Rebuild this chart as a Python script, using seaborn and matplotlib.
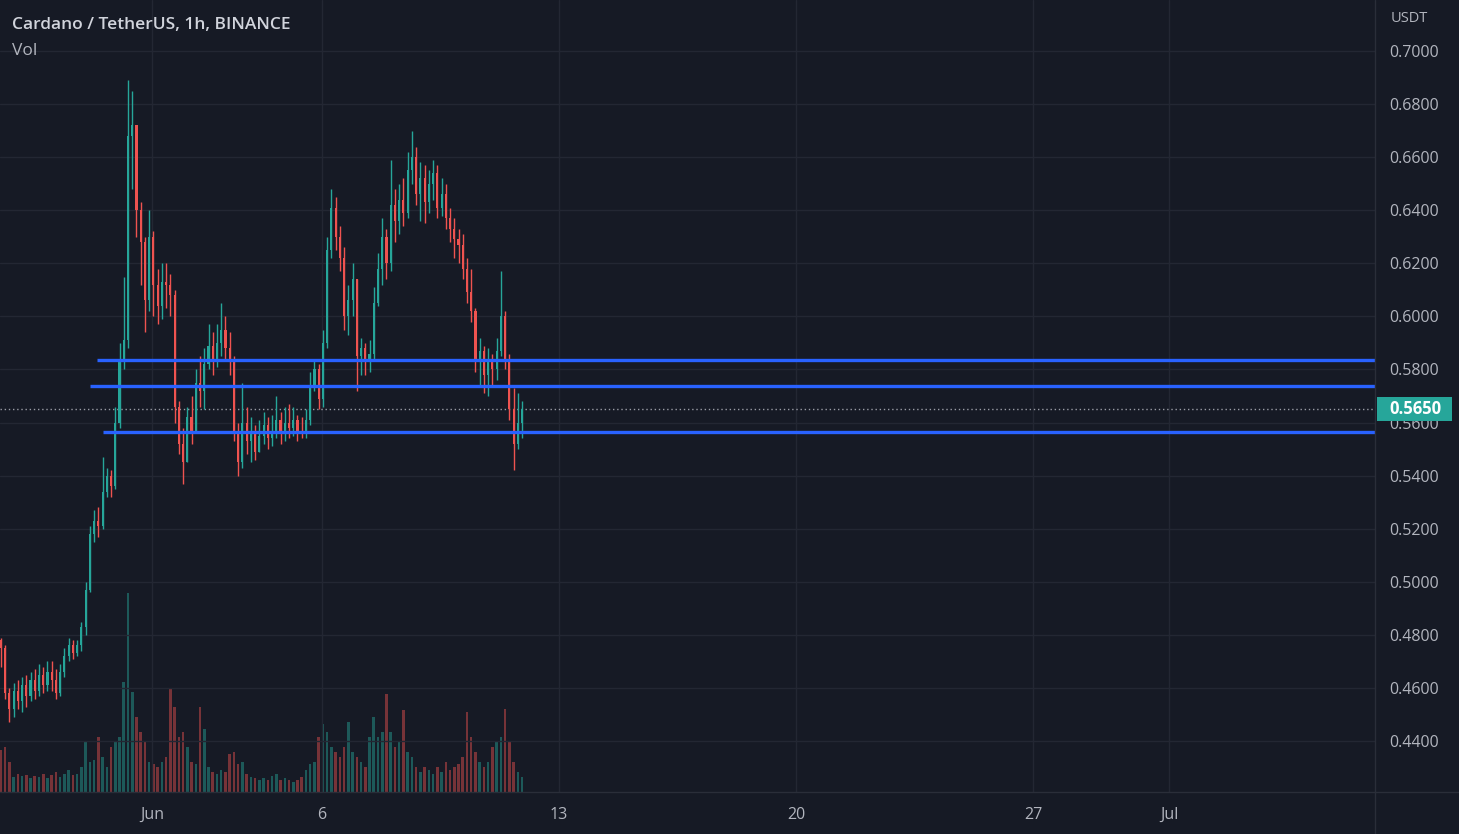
import numpy as np
import pandas as pd
import matplotlib
matplotlib.use("Agg")
import matplotlib.pyplot as plt
import matplotlib.dates as mdates
from matplotlib.patches import Rectangle
from matplotlib.lines import Line2D
import seaborn as sns

first_open = 0.478
close = [0.475, 0.458, 0.452, 0.459, 0.455, 0.461, 0.457, 0.463, 0.459, 0.465,
         0.461, 0.466, 0.463, 0.458, 0.466, 0.472, 0.476, 0.473, 0.476, 0.483,
         0.497, 0.518, 0.523, 0.521, 0.534, 0.540, 0.536, 0.560, 0.584, 0.591,
         0.668, 0.672, 0.640, 0.628, 0.606, 0.630, 0.612, 0.604, 0.613, 0.612,
         0.608, 0.566, 0.552, 0.545, 0.562, 0.557, 0.575, 0.572, 0.582, 0.589,
         0.584, 0.590, 0.595, 0.588, 0.583, 0.556, 0.545, 0.560, 0.553, 0.556,
         0.549, 0.555, 0.559, 0.554, 0.557, 0.561, 0.556, 0.560, 0.558, 0.561,
         0.557, 0.556, 0.561, 0.574, 0.580, 0.569, 0.590, 0.625, 0.641, 0.630,
         0.622, 0.600, 0.606, 0.614, 0.585, 0.588, 0.583, 0.586, 0.605, 0.618,
         0.630, 0.620, 0.642, 0.636, 0.644, 0.639, 0.655, 0.660, 0.646, 0.652,
         0.643, 0.650, 0.654, 0.641, 0.646, 0.637, 0.633, 0.629, 0.627, 0.618,
         0.609, 0.602, 0.583, 0.587, 0.578, 0.583, 0.580, 0.587, 0.600, 0.584,
         0.565, 0.552, 0.560, 0.565]
high = [0.479, 0.476, 0.460, 0.462, 0.463, 0.464, 0.465, 0.466, 0.467, 0.469,
        0.468, 0.470, 0.470, 0.467, 0.469, 0.475, 0.479, 0.478, 0.478, 0.485,
        0.500, 0.521, 0.527, 0.528, 0.547, 0.543, 0.542, 0.566, 0.590, 0.615,
        0.689, 0.685, 0.672, 0.643, 0.630, 0.640, 0.632, 0.618, 0.620, 0.620,
        0.616, 0.610, 0.568, 0.558, 0.566, 0.570, 0.580, 0.585, 0.588, 0.597,
        0.594, 0.597, 0.605, 0.600, 0.594, 0.585, 0.560, 0.575, 0.566, 0.562,
        0.559, 0.561, 0.564, 0.562, 0.563, 0.570, 0.564, 0.566, 0.567, 0.566,
        0.563, 0.562, 0.565, 0.579, 0.584, 0.582, 0.595, 0.630, 0.648, 0.645,
        0.634, 0.626, 0.612, 0.620, 0.614, 0.592, 0.590, 0.591, 0.611, 0.624,
        0.637, 0.633, 0.659, 0.648, 0.650, 0.652, 0.662, 0.670, 0.664, 0.658,
        0.657, 0.655, 0.659, 0.657, 0.652, 0.650, 0.641, 0.637, 0.633, 0.631,
        0.622, 0.618, 0.603, 0.592, 0.589, 0.588, 0.586, 0.592, 0.617, 0.602,
        0.586, 0.573, 0.571, 0.568]
low = [0.468, 0.456, 0.447, 0.449, 0.452, 0.451, 0.453, 0.455, 0.456, 0.457,
       0.458, 0.459, 0.459, 0.456, 0.457, 0.464, 0.470, 0.471, 0.472, 0.474,
       0.480, 0.496, 0.515, 0.517, 0.520, 0.532, 0.532, 0.535, 0.558, 0.580,
       0.588, 0.648, 0.630, 0.612, 0.594, 0.602, 0.600, 0.597, 0.599, 0.603,
       0.600, 0.560, 0.548, 0.537, 0.545, 0.552, 0.556, 0.566, 0.565, 0.580,
       0.578, 0.581, 0.585, 0.583, 0.578, 0.553, 0.540, 0.543, 0.548, 0.545,
       0.546, 0.549, 0.552, 0.550, 0.551, 0.554, 0.552, 0.553, 0.554, 0.555,
       0.553, 0.554, 0.554, 0.559, 0.572, 0.565, 0.566, 0.588, 0.622, 0.625,
       0.617, 0.595, 0.593, 0.600, 0.572, 0.578, 0.578, 0.579, 0.584, 0.604,
       0.612, 0.614, 0.617, 0.628, 0.631, 0.634, 0.637, 0.650, 0.642, 0.636,
       0.635, 0.639, 0.644, 0.637, 0.638, 0.633, 0.628, 0.622, 0.620, 0.614,
       0.605, 0.598, 0.579, 0.574, 0.571, 0.570, 0.574, 0.576, 0.585, 0.580,
       0.561, 0.542, 0.550, 0.554]
# volume, relative units
volume = [42, 45, 30, 15, 18, 16, 17, 14, 16, 15,
          18, 14, 17, 20, 15, 18, 22, 17, 18, 25,
          50, 30, 32, 55, 35, 25, 45, 50, 55, 110,
          199, 100, 75, 60, 50, 30, 28, 25, 30, 35,
          104, 85, 55, 60, 45, 30, 28, 85, 63, 25,
          20, 18, 22, 20, 38, 40, 28, 30, 18, 15,
          14, 12, 14, 12, 16, 18, 12, 14, 12, 10,
          12, 15, 22, 28, 30, 55, 68, 60, 45, 40,
          35, 45, 70, 40, 35, 30, 25, 55, 75, 55,
          60, 98, 60, 45, 50, 82, 40, 35, 25, 20,
          25, 22, 18, 25, 20, 30, 22, 25, 28, 35,
          80, 55, 40, 30, 25, 30, 45, 50, 55, 83,
          50, 30, 20, 15]

support_levels = [0.5836, 0.5738, 0.5564]
support_starts = ["2021-05-30 09:00", "2021-05-30 04:00", "2021-05-30 13:20"]
last_price = 0.5650

price_ticks = [0.44, 0.46, 0.48, 0.50, 0.52, 0.54, 0.56, 0.58, 0.60,
               0.62, 0.64, 0.66, 0.68, 0.70]
date_ticks = ["2021-06-01", "2021-06-06", "2021-06-13", "2021-06-20",
              "2021-06-27", "2021-07-01"]
date_labels = ["Jun", "6", "13", "20", "27", "Jul"]

BG = "#161a25"
GRID = "#232733"
SEP = "#2a2e39"
TXT = "#b2b5be"
UP = "#26a69a"
DOWN = "#ef5350"
BLUE = "#2962ff"

times = pd.date_range("2021-05-27 13:00", periods=len(close), freq="3h")
df = pd.DataFrame({
    "x": mdates.date2num(times.to_pydatetime()),
    "open": [first_open] + close[:-1],
    "high": high,
    "low": low,
    "close": close,
    "volume": volume,
})
df["dir"] = np.where(df["close"] >= df["open"], "up", "down")

sns.set_theme(style="dark", rc={"axes.facecolor": BG, "figure.facecolor": BG})
plt.rcParams["font.family"] = ["Open Sans", "DejaVu Sans"]

fig = plt.figure(figsize=(14.59, 8.34), dpi=100)
rect = [0, 42 / 834, 1375 / 1459, 792 / 834]
vax = fig.add_axes(rect)
ax = fig.add_axes(rect)
ax.patch.set_visible(False)

jun1 = mdates.date2num(pd.Timestamp("2021-06-01"))
xmin, xmax = jun1 - 4.484, jun1 + 36.077

# volume pane
sns.barplot(data=df, x="x", y="volume", hue="dir", native_scale=True,
            palette={"up": UP, "down": DOWN}, dodge=False, width=0.6,
            saturation=1, alpha=0.45, linewidth=0, legend=False, ax=vax)
vax.set_xlim(xmin, xmax)
vax.set_ylim(0, max(volume) / 0.251)
vax.axis("off")

# candles
colors = np.where(df["dir"] == "up", UP, DOWN)
ax.vlines(df["x"], df["low"], df["high"], colors=colors, linewidth=1, zorder=3)
body_lo = np.minimum(df["open"], df["close"])
body_h = np.maximum(np.abs(df["close"] - df["open"]), 0.0006)
ax.bar(df["x"], body_h, bottom=body_lo, width=0.125 * 0.5, color=colors,
       linewidth=0, zorder=3)

# support lines
starts = mdates.date2num(pd.to_datetime(support_starts).to_pydatetime())
for lvl, st in zip(support_levels, starts):
    ax.hlines(lvl, st, xmax, color=BLUE, linewidth=2.4, zorder=4)
ax.axhline(last_price, color="#9a9ca5", linestyle=(0, (1, 2)), linewidth=1, zorder=2)

ax.set_xlim(xmin, xmax)
ax.set_ylim(0.4208, 0.7192)
ax.yaxis.tick_right()
ax.set_yticks(price_ticks)
ax.set_yticklabels([f"{v:.4f}" for v in price_ticks])
ax.set_xticks(mdates.date2num(pd.to_datetime(date_ticks).to_pydatetime()))
ax.set_xticklabels(date_labels)
ax.tick_params(axis="y", length=0, pad=10.5, labelcolor=TXT, labelsize=11.5)
ax.tick_params(axis="x", length=0, pad=11, labelcolor=TXT, labelsize=11.5)
for lab in ax.get_yticklabels():
    lab.set_horizontalalignment("left")
ax.grid(True, color=GRID, linewidth=1)
ax.set_axisbelow(True)
for s in ax.spines.values():
    s.set_visible(False)
ax.set_xlabel("")
ax.set_ylabel("")

# panel separators
fig.add_artist(Line2D([1375 / 1459, 1375 / 1459], [0, 1], color=SEP, lw=1,
                      transform=fig.transFigure))
fig.add_artist(Line2D([0, 1], [42 / 834, 42 / 834], color=SEP, lw=1,
                      transform=fig.transFigure))

# last price tag
fig.add_artist(Rectangle((1377 / 1459, 1 - 421 / 834), 75 / 1459, 24 / 834,
                         transform=fig.transFigure, facecolor=UP,
                         edgecolor="none", zorder=10))
fig.text(1389 / 1459, 1 - 409 / 834, f"{last_price:.4f}", color="white",
         fontsize=12, fontweight="bold", va="center", ha="left", zorder=11)

fig.text(12 / 1459, 1 - 25 / 834, "Cardano / TetherUS, 1h, BINANCE",
         color="#d1d4dc", fontsize=12.5, fontweight="semibold", va="center")
fig.text(12 / 1459, 1 - 51 / 834, "Vol", color="#b2b5be", fontsize=12.5,
         va="center")
fig.text(1391 / 1459, 1 - 19 / 834, "USDT", color=TXT, fontsize=10.5,
         va="center")

fig.savefig("out.png", dpi=100, facecolor=BG)
